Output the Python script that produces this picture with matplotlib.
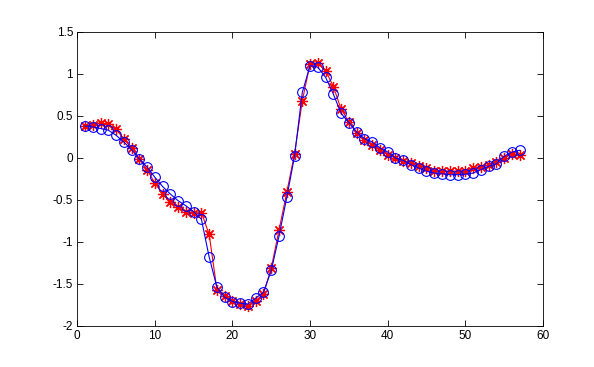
import matplotlib
matplotlib.use("Agg")
import matplotlib.pyplot as plt
import numpy as np

x = list(range(1, 58))

blue = [0.38, 0.37, 0.35, 0.33, 0.27, 0.19, 0.10, -0.01, -0.11, -0.23,
        -0.34, -0.43, -0.51, -0.57, -0.64, -0.73, -1.18, -1.54, -1.66, -1.71,
        -1.73, -1.74, -1.67, -1.60, -1.34, -0.93, -0.47, 0.02, 0.78, 1.10,
        1.08, 0.96, 0.76, 0.53, 0.42, 0.31, 0.23, 0.19, 0.12, 0.07,
        0.00, -0.03, -0.08, -0.12, -0.16, -0.18, -0.19, -0.20, -0.20, -0.195,
        -0.18, -0.14, -0.10, -0.07, 0.02, 0.07, 0.09]

red = [0.38, 0.39, 0.42, 0.40, 0.34, 0.23, 0.12, -0.01, -0.14, -0.30,
       -0.43, -0.53, -0.59, -0.64, -0.66, -0.65, -0.91, -1.57, -1.64, -1.70,
       -1.74, -1.76, -1.70, -1.62, -1.31, -0.86, -0.41, 0.05, 0.68, 1.12,
       1.13, 1.04, 0.85, 0.58, 0.43, 0.30, 0.21, 0.15, 0.09, 0.04,
       0.00, -0.04, -0.06, -0.10, -0.12, -0.15, -0.16, -0.16, -0.16, -0.15,
       -0.12, -0.11, -0.08, -0.05, 0.00, 0.05, 0.04]

xticks = [0, 10, 20, 30, 40, 50, 60]
yticks = [-2, -1.5, -1, -0.5, 0, 0.5, 1, 1.5]
ytick_labels = ["-2", "-1.5", "-1", "-0.5", "0", "0.5", "1", "1.5"]

plt.rcParams['font.family'] = ['Liberation Sans', 'DejaVu Sans']

fig = plt.figure(figsize=(5.94, 3.67), dpi=100)
ax = fig.add_axes([0.130, 0.112, 0.784, 0.801])

ax.plot(x, red, color='red', marker=(8, 2, 0), linestyle='-', linewidth=0.8,
        markersize=8, markeredgewidth=0.9)
ax.plot(x, blue, color='blue', marker='o', linestyle='-', linewidth=0.8,
        markersize=7, markerfacecolor='none', markeredgewidth=0.8)

ax.set_xlim(0, 60)
ax.set_ylim(-2, 1.5)
ax.set_xticks(xticks)
ax.set_xticklabels([str(t) for t in xticks])
ax.set_yticks(yticks)
ax.set_yticklabels(ytick_labels)
ax.tick_params(direction='in', top=True, right=True, length=4, width=0.6,
               labelsize=8.5, pad=3)
for s in ax.spines.values():
    s.set_linewidth(0.6)

fig.savefig("out.png", dpi=100)
